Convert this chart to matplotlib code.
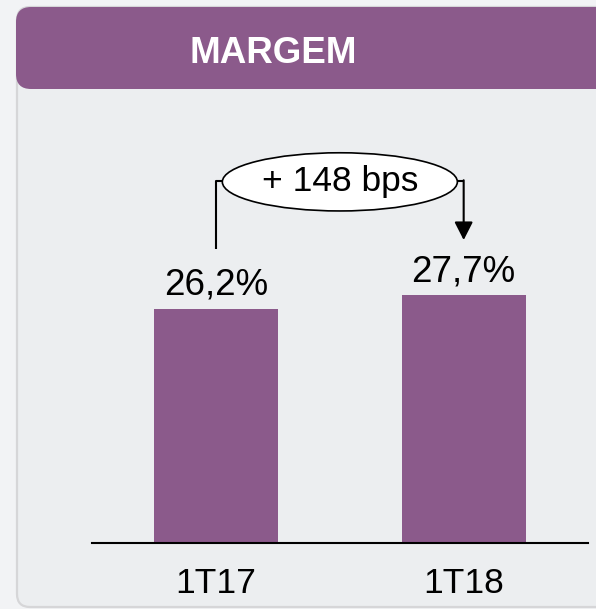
import matplotlib
matplotlib.use("Agg")
import matplotlib.pyplot as plt
from matplotlib.patches import FancyBboxPatch, Ellipse

plt.rcParams['font.family'] = ['Liberation Sans', 'DejaVu Sans']

# ---- data ----
categories = ["1T17", "1T18"]
values = [26.2, 27.7]
value_labels = ["26,2%", "27,7%"]
title = "MARGEM"
delta_label = "+ 148 bps"

# ---- style ----
purple = "#8b5a8b"
W, H = 596, 609
fig = plt.figure(figsize=(W / 100, H / 100), dpi=100, facecolor="#f2f3f5")

# decoration layer in pixel coordinates
bg = fig.add_axes([0, 0, 1, 1], zorder=0)
bg.set_xlim(0, W)
bg.set_ylim(H, 0)
bg.axis("off")
panel = FancyBboxPatch((17, 7), 640, 600, boxstyle="round,pad=0,rounding_size=13",
                       facecolor="#eceef0", edgecolor="#d6d6d8", lw=1.6)
bg.add_patch(panel)
header = FancyBboxPatch((16, 7), 640, 82, boxstyle="round,pad=0,rounding_size=15",
                        facecolor=purple, edgecolor="none")
bg.add_patch(header)
bg.text(273, 63.3, title, ha="center", va="baseline", color="white",
        fontsize=26.5, fontweight="bold")

# chart layer
ax = fig.add_axes([92.2 / W, 66 / H, 495.3 / W, 402.75 / H], zorder=1)
ax.patch.set_alpha(0)
x = list(range(len(categories)))
ax.bar(x, values, width=0.5, color=purple, zorder=2)
ax.set_xlim(-0.5, 1.5)
ax.set_ylim(0, 45)
for s in ["top", "right", "left"]:
    ax.spines[s].set_visible(False)
ax.spines["bottom"].set_linewidth(1.5)
ax.spines["bottom"].set_color("black")
ax.set_yticks([])
ax.set_xticks(x, labels=categories)
ax.tick_params(axis="x", length=0, pad=17, labelsize=25.5)

for xi, v, lab in zip(x, values, value_labels):
    ax.annotate(lab, (xi, v), xytext=(0, 10), textcoords="offset points",
                ha="center", va="baseline", fontsize=26.5)

# delta annotation
y_conn = 40.45
ell_cx, ell_w, ell_h = 0.5, 0.949, 6.5
ell = Ellipse((ell_cx, 40.35), ell_w, ell_h, facecolor="white", edgecolor="black",
              lw=1.2, zorder=4, clip_on=False)
ax.add_patch(ell)
ax.text(ell_cx, 39.3, delta_label, ha="center", va="baseline", fontsize=25.5, zorder=5)
ax.plot([x[0], x[0], ell_cx - ell_w / 2], [values[0] + 6.65, y_conn, y_conn],
        color="black", lw=1.5, zorder=3, clip_on=False, solid_capstyle="butt")
ax.plot([ell_cx + ell_w / 2, x[1]], [y_conn, y_conn], color="black", lw=1.5,
        zorder=3, clip_on=False, solid_capstyle="butt")
ax.annotate("", xy=(x[1], values[1] + 6.15), xytext=(x[1], y_conn + 0.08),
            arrowprops=dict(arrowstyle="-|>,head_length=0.55,head_width=0.28",
                            mutation_scale=20, lw=1.5, color="black",
                            shrinkA=0, shrinkB=0), annotation_clip=False)

fig.savefig("out.png", dpi=100, facecolor=fig.get_facecolor())
